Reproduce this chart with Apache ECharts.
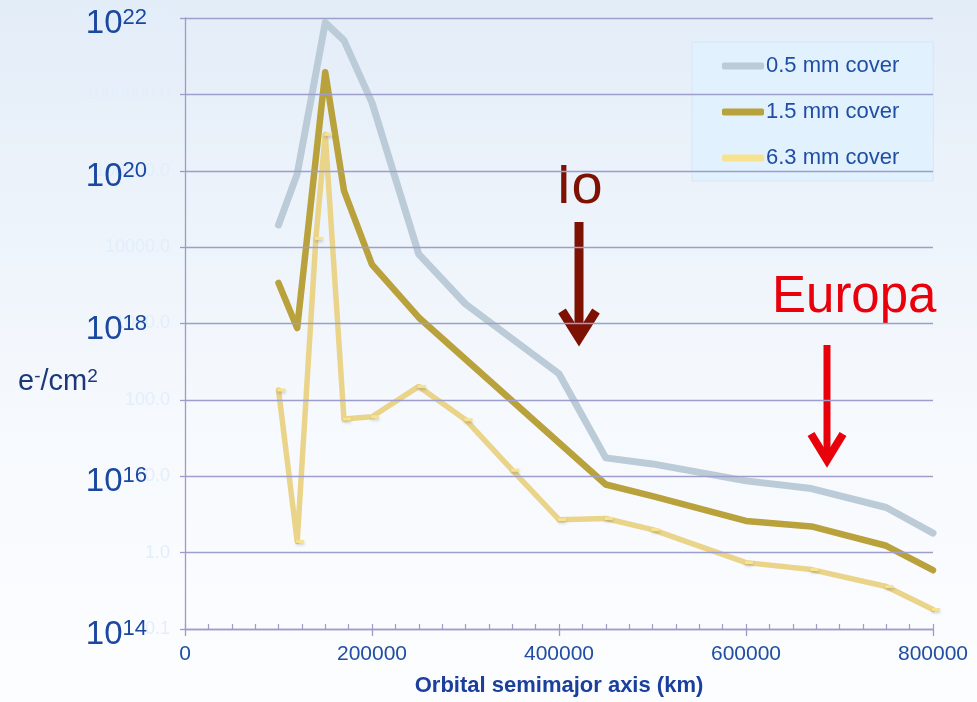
<!DOCTYPE html>
<html>
<head>
<meta charset="utf-8">
<script src="https://cdn.jsdelivr.net/npm/echarts@6/dist/echarts.min.js"></script>
<style>
  html, body { margin: 0; padding: 0; overflow: hidden; }
  #chart { width: 977px; height: 702px; }
</style>
</head>
<body>
<div id="chart"></div>
<script>
// Electron fluence (e-/cm²) behind shielding versus orbital semimajor axis (km)
const coverNames = ['0.5 mm cover', '1.5 mm cover', '6.3 mm cover'];

const radius05 = [100000, 120000, 150000, 170000, 200000, 250000, 300000, 400000, 450000, 500000, 600000, 670000, 750000, 800000];
const fluence05 = [1.95e19, 9.1e19, 8.7e21, 5.1e21, 7.8e20, 8.1e18, 1.8e18, 2.2e17, 1.74e16, 1.45e16, 8.7e15, 6.9e15, 3.9e15, 1.8e15];

const radius15 = [100000, 120000, 150000, 170000, 200000, 250000, 450000, 500000, 600000, 670000, 750000, 800000];
const fluence15 = [3.4e18, 8.7e17, 1.95e21, 5.5e19, 5.9e18, 1.2e18, 7.8e15, 5.5e15, 2.6e15, 2.2e15, 1.23e15, 5.9e14];

const radius63 = [100000, 120000, 140000, 150000, 170000, 200000, 250000, 300000, 350000, 400000, 450000, 500000, 600000, 670000, 750000, 800000];
const fluence63 = [1.35e17, 1.4e15, 1.3e19, 3.0e20, 5.6e16, 6.0e16, 1.5e17, 5.5e16, 1.2e16, 2.7e15, 2.8e15, 2.0e15, 7.4e14, 6.0e14, 3.6e14, 1.8e14];

// Secondary (legacy) scale printed faintly behind the main decade labels
const legacyMin = 0.1;
const legacyMax = 1e7;

const xTitle = 'Orbital semimajor axis (km)';
const yTitle = ['e', '-', '/cm', '2'];
const moonNames = ['Io', 'Europa'];

const FONT = '"Liberation Sans", Arial, sans-serif';
const BLUE = '#1f4ea3';
const AXIS = '#9c9cc6';

const zip = (xs, ys) => xs.map((x, i) => [x, ys[i]]);

const chart = echarts.init(document.getElementById('chart'));

chart.setOption({
  backgroundColor: new echarts.graphic.LinearGradient(0, 0, 0, 1, [
    { offset: 0, color: '#e3edf8' },
    { offset: 0.6, color: '#f6f9fd' },
    { offset: 1, color: '#fcfdff' }
  ]),
  animation: false,
  grid: { left: 185, right: 44, top: 18, bottom: 68 },
  legend: {
    orient: 'vertical',
    left: 692,
    top: 42,
    padding: [13, 34, 12, 30],
    itemGap: 24,
    itemWidth: 42,
    itemHeight: 7,
    icon: 'roundRect',
    backgroundColor: '#e2f1fe',
    borderColor: '#d4e6f7',
    borderWidth: 1,
    textStyle: { fontFamily: FONT, fontSize: 22, color: BLUE, lineHeight: 20, padding: [0, 0, 0, -3] },
    data: coverNames
  },
  xAxis: [
    {
      type: 'value',
      min: 0,
      max: 800000,
      interval: 200000,
      position: 'bottom',
      axisLine: { show: true, lineStyle: { color: AXIS, width: 1.3 } },
      axisTick: { show: true, inside: false, length: 7, lineStyle: { color: AXIS, width: 1.3 } },
      splitLine: { show: false },
      axisLabel: { fontFamily: FONT, fontSize: 21, color: BLUE, margin: 15, formatter: v => String(v) },
      name: xTitle,
      nameLocation: 'middle',
      nameGap: 46,
      nameTextStyle: { fontFamily: FONT, fontSize: 22, fontWeight: 'bold', color: '#1a3f9c' }
    },
    {
      type: 'value',
      min: 0,
      max: 800000,
      interval: 25000,
      position: 'bottom',
      axisLine: { show: false },
      axisTick: { show: true, inside: true, length: 5, lineStyle: { color: AXIS, width: 1.2 } },
      axisLabel: { show: false },
      splitLine: { show: false }
    }
  ],
  yAxis: [
    {
      type: 'log',
      logBase: 10,
      min: 1e14,
      max: 1e22,
      z: 5,
      axisLine: { show: true, lineStyle: { color: AXIS, width: 1.3 } },
      axisTick: { show: true, inside: false, length: 5, lineStyle: { color: AXIS, width: 1.3 } },
      splitLine: { show: true, lineStyle: { color: '#9d9ecb', width: 1.3 } },
      axisLabel: {
        margin: 38,
        padding: [12, 0, 0, 0],
        formatter: function (v) {
          const e = Math.round(Math.log10(v));
          return e % 2 === 0 ? '{b|10}{s|' + e + '}' : '';
        },
        rich: {
          b: { fontFamily: FONT, fontSize: 33, color: '#1a48a0', lineHeight: 34 },
          s: { fontFamily: FONT, fontSize: 22, color: '#1a48a0', lineHeight: 22, verticalAlign: 'top' }
        }
      }
    },
    {
      type: 'log',
      logBase: 10,
      min: legacyMin,
      max: legacyMax,
      position: 'left',
      z: 1,
      axisLine: { show: false },
      axisTick: { show: false },
      splitLine: { show: false },
      axisLabel: {
        margin: 15,
        fontFamily: FONT,
        fontSize: 18,
        color: '#e1eefc',
        formatter: v => Number(v).toFixed(1)
      }
    }
  ],
  series: [
    {
      name: coverNames[0],
      type: 'line',
      data: zip(radius05, fluence05),
      color: '#bccbd8',
      showSymbol: false,
      symbol: 'none',
      lineStyle: { width: 7, color: '#bccbd8', join: 'round', cap: 'round' },
      z: 2
    },
    {
      name: coverNames[1],
      type: 'line',
      data: zip(radius15, fluence15),
      color: '#b9a13c',
      showSymbol: false,
      symbol: 'none',
      lineStyle: { width: 6.5, color: '#b9a13c', join: 'round', cap: 'round' },
      z: 3
    },
    {
      name: coverNames[2],
      type: 'line',
      data: zip(radius63, fluence63),
      color: '#ead48a',
      symbol: 'rect',
      symbolSize: [8, 3],
      symbolOffset: [3, 0],
      itemStyle: { color: '#f7e38f', shadowColor: 'rgba(60,60,60,0.25)', shadowBlur: 3, shadowOffsetY: 2 },
      lineStyle: { width: 5.5, color: '#ead48a', join: 'round', cap: 'round' },
      z: 4
    }
  ],
  graphic: [
    {
      type: 'text', left: 18, top: 367,
      style: {
        text: '{n|' + yTitle[0] + '}{s|' + yTitle[1] + '}{n|' + yTitle[2] + '}{s|' + yTitle[3] + '}',
        rich: {
          n: { fontFamily: FONT, fontSize: 29, fill: '#1c3878', lineHeight: 30 },
          s: { fontFamily: FONT, fontSize: 19, fill: '#1c3878', lineHeight: 19, verticalAlign: 'top' }
        }
      }
    },
    {
      type: 'text', x: 556, y: 188,
      style: { text: moonNames[0], font: '56px ' + FONT, fill: '#7d1203', verticalAlign: 'middle' }
    },
    {
      type: 'line', shape: { x1: 579, y1: 222, x2: 579, y2: 336 },
      style: { stroke: '#7d1203', lineWidth: 9 }
    },
    {
      type: 'polyline', shape: { points: [[562, 311], [579, 338], [596, 311]] },
      style: { stroke: '#7d1203', lineWidth: 9, lineJoin: 'miter', fill: null }
    },
    {
      type: 'text', x: 772, y: 298,
      style: { text: moonNames[1], font: '51px ' + FONT, fill: '#e8000a', verticalAlign: 'middle' }
    },
    {
      type: 'line', shape: { x1: 827, y1: 345, x2: 827, y2: 455 },
      style: { stroke: '#e8000a', lineWidth: 7 }
    },
    {
      type: 'polyline', shape: { points: [[811, 434], [827, 460], [843, 434]] },
      style: { stroke: '#e8000a', lineWidth: 8, lineJoin: 'miter', fill: null }
    }
  ]
});
</script>
</body>
</html>
